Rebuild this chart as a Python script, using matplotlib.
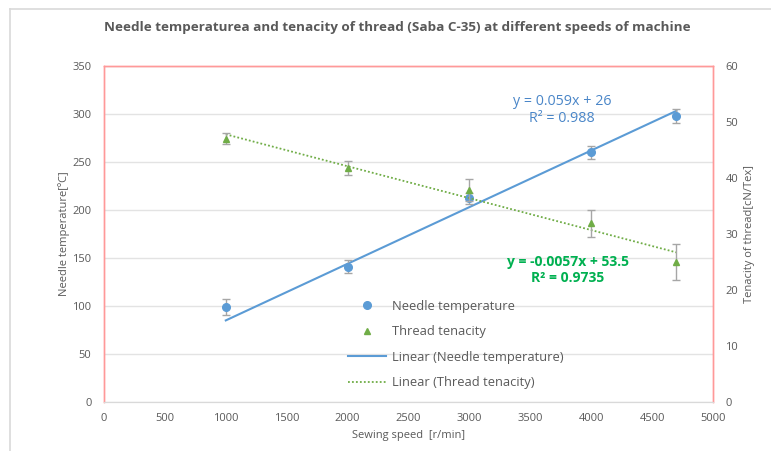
import numpy as np
import matplotlib
matplotlib.use('Agg')
import matplotlib.pyplot as plt
from matplotlib.lines import Line2D

plt.rcParams['font.family'] = ['Open Sans', 'DejaVu Sans']

# data
speed = [1000, 2000, 3000, 4000, 4700]
needle_temp = [99, 141, 212, 260, 298]
needle_err = [8, 7, 6, 7, 7]
tenacity = [47.0, 41.8, 37.9, 31.9, 25.0]
tenacity_err = [1.0, 1.3, 2.0, 2.4, 3.2]

# trend line coefficients as printed on the chart
temp_fit = (0.059, 26)
ten_fit = (-0.0057, 53.5)

grey = '#595959'
blue = '#5B9BD5'
green = '#70AD47'
frame_red = '#FF9999'

W, H = 771, 451
fig = plt.figure(figsize=(W / 100, H / 100), dpi=100)
ax = fig.add_axes([104/W, 1 - 402/H, 609/W, 336/H])
ax2 = ax.twinx()

# outer chart border (partly cropped in the reference)
fig.add_artist(Line2D([10/W, 10/W], [0, 1 - 9/H], color='#D9D9D9', lw=1.2, transform=fig.transFigure))
fig.add_artist(Line2D([10/W, 1], [1 - 9/H, 1 - 9/H], color='#D9D9D9', lw=1.2, transform=fig.transFigure))

# needle temperature on left axis
ax.errorbar(speed, needle_temp, yerr=needle_err, fmt='o', color=blue, ms=5.5,
            ecolor='#A6A6A6', elinewidth=1, capsize=3, zorder=4)
xs = np.array([speed[0], speed[-1]])
ax.plot(xs, temp_fit[0] * xs + temp_fit[1], color=blue, lw=1.5, zorder=3)

# thread tenacity on right axis
ax2.errorbar(speed, tenacity, yerr=tenacity_err, fmt='^', color=green, ms=5,
             ecolor='#A6A6A6', elinewidth=1, capsize=3, zorder=4)
ax2.plot(xs, ten_fit[0] * xs + ten_fit[1], color=green, lw=1.3, ls=(0, (1, 1.2)), zorder=3)

ax.set_xlim(0, 5000)
ax.set_ylim(0, 350)
ax2.set_ylim(0, 60)
ax.set_xticks(np.arange(0, 5001, 500))
ax.set_yticks(np.arange(0, 351, 50))
ax2.set_yticks(np.arange(0, 61, 10))
ax.yaxis.grid(True, color='#E3E3E3', lw=1)
ax.set_axisbelow(True)

for a in (ax, ax2):
    a.tick_params(length=0, labelsize=8, colors=grey, pad=8)
    for side in ('left', 'right', 'top'):
        a.spines[side].set_color(frame_red)
        a.spines[side].set_linewidth(1)
    a.spines['bottom'].set_color('#D9D9D9')
ax.tick_params(axis='y', pad=9)
ax2.tick_params(axis='y', pad=9)

ax.set_xlabel('Sewing speed  [r/min]', fontsize=8, color=grey, labelpad=4)
ax.set_ylabel('Needle temperature[ºC]', fontsize=8, color=grey, labelpad=2)
ax2.set_ylabel('Tenacity of thread[cN/Tex]', fontsize=8, color=grey, labelpad=4)

fig.text(397/W, 1 - 28/H, 'Needle temperaturea and tenacity of thread (Saba C-35) at different speeds of machine',
         ha='center', va='center', fontsize=9.7, fontweight='bold', color=grey)

fig.text(562/W, 1 - 110/H, 'y = 0.059x + 26\nR² = 0.988', ha='center', va='center',
         fontsize=10.3, color='#4A86C8', linespacing=1.25)
fig.text(568/W, 1 - 270/H, 'y = -0.0057x + 53.5\nR² = 0.9735', ha='center', va='center',
         fontsize=10, color='#00B050', fontweight='bold', linespacing=1.25)

handles = [
    Line2D([], [], marker='o', ls='none', color=blue, ms=5.5),
    Line2D([], [], marker='^', ls='none', color=green, ms=4.5),
    Line2D([], [], color=blue, lw=1.5),
    Line2D([], [], color=green, lw=1.3, ls=(0, (1, 1.2))),
]
labels = ['Needle temperature', 'Thread tenacity',
          'Linear (Needle temperature)', 'Linear (Thread tenacity)']
leg = ax.legend(handles, labels, loc='upper left', bbox_to_anchor=(232/609, 1 - 222/336),
                frameon=False, fontsize=9.3, labelspacing=0.97, handlelength=3.0,
                handletextpad=0.4, labelcolor=grey)

fig.savefig('out.png', dpi=100, facecolor='white')
